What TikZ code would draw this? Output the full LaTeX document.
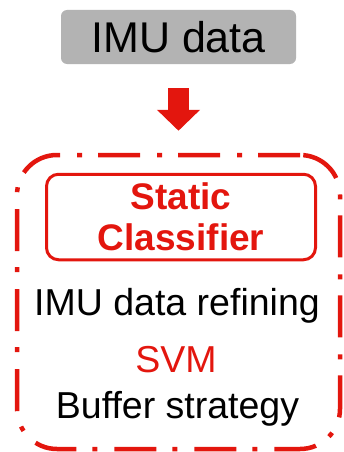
\documentclass[tikz,border=0pt]{standalone}
\usepackage{fontspec}
\setmainfont{Liberation Sans}
\usetikzlibrary{arrows.meta}
\definecolor{xRed}{RGB}{227,22,14}
\definecolor{xGray}{RGB}{179,179,179}
\tikzset{
  source/.style={fill=xGray, rounded corners=6pt, minimum width=235pt, minimum height=54pt,
                 inner sep=0pt, font=\fontsize{43}{50}\selectfont},
  frame/.style={draw=xRed, line width=4.5pt, rounded corners=40pt,
                dash pattern=on 42pt off 16pt on 5pt off 17pt, minimum width=323pt, minimum height=294pt},
  classbox/.style={draw=xRed, line width=3pt, rounded corners=12pt, align=center, text=xRed,
                   minimum width=269pt, minimum height=85.5pt, inner sep=0pt,
                   font=\fontsize{37}{41}\selectfont\bfseries},
  stage/.style={anchor=base, font=\fontsize{37.5}{44}\selectfont},
  flow/.style={xRed, line width=21pt, -{Triangle[length=21pt, width=42pt]}},
}
\begin{document}
\begin{tikzpicture}[x=1pt, y=1pt]
    \useasboundingbox (0,0) rectangle (344,-452);
    \node[source]   (imu)   at (178.5,-37)  {IMU data};
    \node[frame]    (frame) at (178.5,-302) {};
    \node[classbox] (cls)   at (181,-217)   {Static\\Classifier};
    \node[stage]            (refine) at (177,-315)   {IMU data refining};
    \node[stage, text=xRed] (svm)    at (176,-372)   {SVM};
    \node[stage]            (buffer) at (177.5,-418) {Buffer strategy};
    \draw[flow, shorten <=24pt, shorten >=22pt] (imu.south) -- (frame.north);
\end{tikzpicture}
\end{document}
